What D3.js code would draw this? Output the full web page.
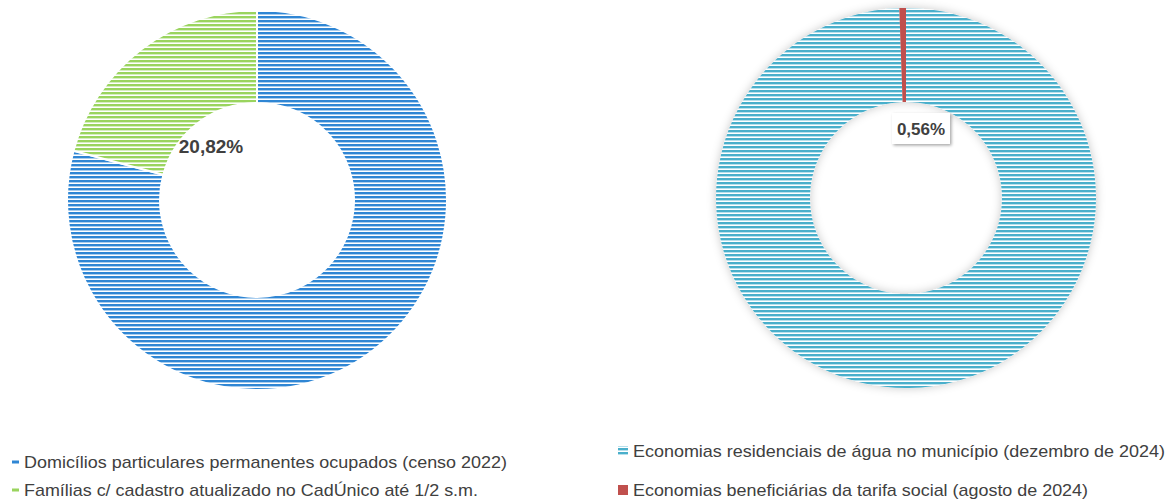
<!DOCTYPE html>
<html>
<head>
<meta charset="utf-8">
<script src="https://cdn.jsdelivr.net/npm/d3@7.9.0/dist/d3.min.js"></script>
<style>
  body { margin: 0; background: #fff; }
  svg { display: block; font-family: "Liberation Sans", Arial, sans-serif; }
</style>
</head>
<body>
<svg id="chart" width="1173" height="501"></svg>
<script>
// left donut
const leftLabels = [
  'Domicílios particulares permanentes ocupados (censo 2022)',
  'Famílias c/ cadastro atualizado no CadÚnico até 1/2 s.m.'
];
const leftValues = [79.18, 20.82];

// right donut
const rightLabels = [
  'Economias residenciais de água no município (dezembro de 2024)',
  'Economias beneficiárias da tarifa social (agosto de 2024)'
];
const rightValues = [99.44, 0.56];

const fmt = (v) => v.toFixed(2).replace('.', ',') + '%';

const svg = d3.select('#chart');
const defs = svg.append('defs');

function stripes(id, dark, light) {
  let p = defs.append('pattern')
    .attr('id', id)
    .attr('patternUnits', 'userSpaceOnUse')
    .attr('width', 8)
    .attr('height', 4);
  p.append('rect').attr('width', 8).attr('height', 4).attr('fill', '#fff');
  p.append('rect').attr('y', 0).attr('width', 8).attr('height', 2).attr('fill', dark);
  p.append('rect').attr('y', 2).attr('width', 8).attr('height', 1).attr('fill', light);
}
stripes('blue', '#2f86d4', '#a8cdee');
stripes('green', '#9ad45e', '#d6eec0');
stripes('aqua', '#4aafcb', '#b7e0ec');

let shadow = defs.append('filter').attr('id', 'shadow')
  .attr('x', '-20%').attr('y', '-20%').attr('width', '140%').attr('height', '140%');
shadow.append('feDropShadow')
  .attr('dx', 0).attr('dy', 0).attr('stdDeviation', 5)
  .attr('flood-color', '#000').attr('flood-opacity', 0.22);

let boxShadow = defs.append('filter').attr('id', 'boxShadow')
  .attr('x', '-30%').attr('y', '-30%').attr('width', '160%').attr('height', '160%');
boxShadow.append('feDropShadow')
  .attr('dx', 1.5).attr('dy', 1.5).attr('stdDeviation', 1.5)
  .attr('flood-color', '#000').attr('flood-opacity', 0.35);

const pie = d3.pie().sort(null).value((d) => d);

function donut(cx, cy, outer, inner, values, fills, withShadow, strokeW) {
  let g = svg.append('g').attr('transform', `translate(${cx},${cy})`);
  if (withShadow) g.attr('filter', 'url(#shadow)');
  let arc = d3.arc().innerRadius(inner).outerRadius(outer);
  g.selectAll('path')
    .data(pie(values))
    .join('path')
    .attr('d', arc)
    .attr('fill', (d, i) => fills[i])
    .attr('stroke', strokeW ? '#fff' : 'none')
    .attr('stroke-width', strokeW);
  return { g, arc };
}

// left chart
let left = donut(257, 200, 190, 97, leftValues, ['url(#blue)', 'url(#green)'], false, 2);
svg.append('text')
  .attr('x', 211)
  .attr('y', 153)
  .attr('text-anchor', 'middle')
  .attr('font-size', 19)
  .attr('font-weight', 'bold')
  .attr('fill', '#404040')
  .text(fmt(leftValues[1]));

// right chart
let right = donut(906, 198, 190, 96, rightValues, ['url(#aqua)', '#c0504d'], true, 0);

let lx = 921, ly = 129;
let box = svg.append('g').attr('transform', `translate(${lx},${ly})`);
box.append('rect')
  .attr('x', -29).attr('y', -16)
  .attr('width', 58).attr('height', 31)
  .attr('fill', '#fff')
  .attr('filter', 'url(#boxShadow)');
box.append('text')
  .attr('text-anchor', 'middle')
  .attr('y', 6)
  .attr('font-size', 17)
  .attr('font-weight', 'bold')
  .attr('fill', '#404040')
  .text(fmt(rightValues[1]));

// legends
const legendText = '#404040';

let leftLegend = svg.append('g');
let leftMarks = ['#2f86d4', '#9ad45e'];
let leftWidths = [483, 454];
leftLabels.forEach((t, i) => {
  let y = 462 + i * 28;
  leftLegend.append('rect')
    .attr('x', 12).attr('y', y - 1.5)
    .attr('width', 7).attr('height', 3)
    .attr('fill', leftMarks[i]);
  leftLegend.append('text')
    .attr('x', 24).attr('y', y + 6)
    .attr('font-size', 17)
    .attr('textLength', leftWidths[i])
    .attr('lengthAdjust', 'spacingAndGlyphs')
    .attr('fill', legendText)
    .text(t);
});

let rightLegend = svg.append('g');
let rightMarks = ['url(#aqua)', '#c0504d'];
let rightWidths = [532, 455];
rightLabels.forEach((t, i) => {
  let y = 451 + i * 39;
  rightLegend.append('rect')
    .attr('x', 618).attr('y', y - 5)
    .attr('width', 10).attr('height', 10)
    .attr('fill', rightMarks[i]);
  rightLegend.append('text')
    .attr('x', 633).attr('y', y + 6)
    .attr('font-size', 17)
    .attr('textLength', rightWidths[i])
    .attr('lengthAdjust', 'spacingAndGlyphs')
    .attr('fill', legendText)
    .text(t);
});
</script>
</body>
</html>
